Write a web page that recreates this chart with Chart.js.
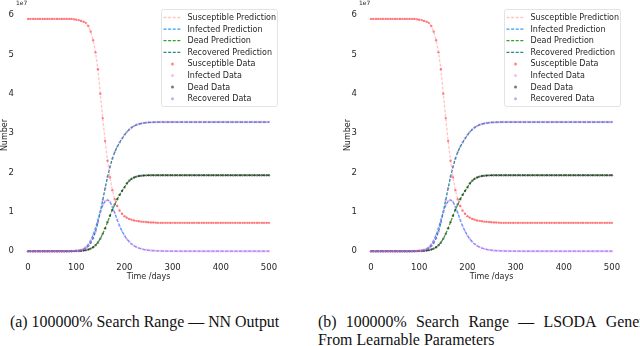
<!DOCTYPE html>
<html>
<head>
<meta charset="utf-8">
<script src="https://cdn.jsdelivr.net/npm/chart.js@4.4.1/dist/chart.umd.min.js"></script>
<style>
  html, body { margin: 0; padding: 0; background: #fff; }
  body { width: 640px; height: 346px; overflow: hidden; position: relative; }
  canvas { position: absolute; top: 0; }
  #chartA { left: 0; }
  #chartB { left: 343px; }
  .cap { position: absolute; font-family: "Liberation Serif", serif; font-size: 15.9px; line-height: 17px; color: #111; white-space: nowrap; }
  #capA { left: 10px; top: 313px; }
  #capB1 { left: 318px; top: 313px; width: 353px; display: flex; justify-content: space-between; }
  #capB2 { left: 318px; top: 331px; }
</style>
</head>
<body>
<canvas id="chartA" width="297" height="282"></canvas>
<canvas id="chartB" width="297" height="282"></canvas>
<div class="cap" id="capA">(a) 100000% Search Range — NN Output</div>
<div class="cap" id="capB1"><span>(b)</span><span>100000%</span><span>Search</span><span>Range</span><span>—</span><span>LSODA</span><span>Generated</span></div>
<div class="cap" id="capB2">From Learnable Parameters</div>
<script>
// DATI (unità di 1e7 persone)
const days = [
  0, 5, 10, 15, 20, 25, 30, 35, 40, 45,
  50, 55, 60, 65, 70, 75, 80, 85, 90, 95,
  100, 105, 110, 115, 120, 125, 130, 135, 140, 145,
  150, 155, 160, 165, 170, 175, 180, 185, 190, 195,
  200, 205, 210, 215, 220, 225, 230, 235, 240, 245,
  250, 255, 260, 265, 270, 275, 280, 285, 290, 295,
  300, 305, 310, 315, 320, 325, 330, 335, 340, 345,
  350, 355, 360, 365, 370, 375, 380, 385, 390, 395,
  400, 405, 410, 415, 420, 425, 430, 435, 440, 445,
  450, 455, 460, 465, 470, 475, 480, 485, 490, 495,
  500
];

const susceptible = [
  5.90, 5.90, 5.90, 5.90, 5.90, 5.90, 5.90, 5.90, 5.90, 5.90,
  5.90, 5.90, 5.90, 5.90, 5.90, 5.90, 5.90, 5.90, 5.90, 5.89,
  5.88, 5.87, 5.85, 5.83, 5.80, 5.72, 5.58, 5.36, 5.05, 4.62,
  4.00, 3.38, 2.80, 2.30, 1.88, 1.55, 1.32, 1.15, 1.03, 0.95,
  0.89, 0.85, 0.82, 0.80, 0.78, 0.77, 0.76, 0.75, 0.745, 0.74,
  0.735, 0.73, 0.73, 0.725, 0.72, 0.72, 0.72, 0.72, 0.72, 0.72,
  0.72, 0.72, 0.72, 0.72, 0.72, 0.72, 0.72, 0.72, 0.72, 0.72,
  0.72, 0.72, 0.72, 0.72, 0.72, 0.72, 0.72, 0.72, 0.72, 0.72,
  0.72, 0.72, 0.72, 0.72, 0.72, 0.72, 0.72, 0.72, 0.72, 0.72,
  0.72, 0.72, 0.72, 0.72, 0.72, 0.72, 0.72, 0.72, 0.72, 0.72,
  0.72
];

const infected = [
  0, 0, 0, 0, 0, 0, 0, 0, 0, 0,
  0, 0, 0, 0.001, 0.001, 0.001, 0.002, 0.003, 0.005, 0.008,
  0.012, 0.02, 0.035, 0.06, 0.10, 0.17, 0.27, 0.41, 0.59, 0.80,
  1.00, 1.17, 1.27, 1.30, 1.26, 1.13, 0.97, 0.80, 0.64, 0.51,
  0.40, 0.31, 0.24, 0.18, 0.14, 0.105, 0.08, 0.06, 0.045, 0.034,
  0.025, 0.019, 0.014, 0.01, 0.008, 0.006, 0.004, 0.003, 0.002, 0.002,
  0.002, 0.001, 0.001, 0.001, 0, 0, 0, 0, 0, 0,
  0, 0, 0, 0, 0, 0, 0, 0, 0, 0,
  0, 0, 0, 0, 0, 0, 0, 0, 0, 0,
  0, 0, 0, 0, 0, 0, 0, 0, 0, 0,
  0
];

const dead = [
  0, 0, 0, 0, 0, 0, 0, 0, 0, 0,
  0, 0, 0, 0, 0, 0, 0, 0, 0, 0.002,
  0.004, 0.006, 0.01, 0.016, 0.026, 0.042, 0.066, 0.10, 0.15, 0.22,
  0.32, 0.44, 0.58, 0.74, 0.90, 1.05, 1.19, 1.32, 1.43, 1.53,
  1.62, 1.72, 1.79, 1.84, 1.87, 1.895, 1.91, 1.918, 1.923, 1.926,
  1.928, 1.93, 1.93, 1.93, 1.93, 1.93, 1.93, 1.93, 1.93, 1.93,
  1.93, 1.93, 1.93, 1.93, 1.93, 1.93, 1.93, 1.93, 1.93, 1.93,
  1.93, 1.93, 1.93, 1.93, 1.93, 1.93, 1.93, 1.93, 1.93, 1.93,
  1.93, 1.93, 1.93, 1.93, 1.93, 1.93, 1.93, 1.93, 1.93, 1.93,
  1.93, 1.93, 1.93, 1.93, 1.93, 1.93, 1.93, 1.93, 1.93, 1.93,
  1.93
];

const recovered = [
  0, 0, 0, 0, 0, 0, 0, 0, 0, 0,
  0, 0, 0, 0, 0, 0, 0, 0.002, 0.004, 0.006,
  0.01, 0.015, 0.025, 0.045, 0.08, 0.13, 0.21, 0.33, 0.50, 0.73,
  1.00, 1.30, 1.60, 1.89, 2.14, 2.35, 2.52, 2.65, 2.76, 2.86,
  2.95, 3.03, 3.09, 3.14, 3.18, 3.21, 3.23, 3.245, 3.255, 3.265,
  3.27, 3.273, 3.276, 3.278, 3.28, 3.28, 3.28, 3.28, 3.28, 3.28,
  3.28, 3.28, 3.28, 3.28, 3.28, 3.28, 3.28, 3.28, 3.28, 3.28,
  3.28, 3.28, 3.28, 3.28, 3.28, 3.28, 3.28, 3.28, 3.28, 3.28,
  3.28, 3.28, 3.28, 3.28, 3.28, 3.28, 3.28, 3.28, 3.28, 3.28,
  3.28, 3.28, 3.28, 3.28, 3.28, 3.28, 3.28, 3.28, 3.28, 3.28,
  3.28
];

const xTicks = [0, 100, 200, 300, 400, 500];
const yTicks = [0, 1, 2, 3, 4, 5, 6];

const etichettePred = ['Susceptible Prediction', 'Infected Prediction', 'Dead Prediction', 'Recovered Prediction'];
const etichetteDati = ['Susceptible Data', 'Infected Data', 'Dead Data', 'Recovered Data'];
const serie = [susceptible, infected, dead, recovered];
const coloriLinee = ['rgba(255,140,150,0.5)', 'rgba(30,144,255,0.9)', 'rgba(30,150,30,0.9)', 'rgba(30,130,135,0.95)'];
const coloriPunti = ['rgba(255,40,40,0.55)', 'rgba(238,130,238,0.55)', 'rgba(10,10,10,0.55)', 'rgba(150,100,235,0.55)'];

const FONT = { family: 'DejaVu Sans', size: 8.5 };
const TESTO = '#262626';

function punti(valori) {
  return days.map((d, i) => ({ x: d, y: valori[i] }));
}

// LEGENDA DENTRO IL GRAFICO (come matplotlib)
const legendaInterna = {
  id: 'legendaInterna',
  afterDraw(chart) {
    const ctx = chart.ctx, area = chart.chartArea;
    const w = 116, h = 97, rowH = 11.6;
    const x0 = Math.round(area.right - 4 - w) + 0.5, y0 = Math.round(area.top + 2) + 0.5;
    ctx.save();
    ctx.fillStyle = 'rgba(255,255,255,0.85)';
    ctx.strokeStyle = '#dcdcdc';
    ctx.lineWidth = 0.8;
    ctx.beginPath();
    ctx.roundRect(x0, y0, w, h, 2);
    ctx.fill();
    ctx.stroke();
    ctx.font = '8px "DejaVu Sans"';
    ctx.textBaseline = 'middle';
    ctx.textAlign = 'left';
    chart.data.datasets.forEach((ds, i) => {
      const cy = y0 + 8 + i * rowH;
      const hx = x0 + 2;
      if (ds.showLine) {
        ctx.strokeStyle = ds.borderColor;
        ctx.lineWidth = 1.3;
        ctx.setLineDash([3, 1.6]);
        ctx.beginPath();
        ctx.moveTo(hx, cy);
        ctx.lineTo(hx + 17, cy);
        ctx.stroke();
        ctx.setLineDash([]);
      } else {
        ctx.fillStyle = ds.pointBackgroundColor;
        ctx.beginPath();
        ctx.arc(hx + 9, cy, 1.5, 0, Math.PI * 2);
        ctx.fill();
      }
      ctx.fillStyle = TESTO;
      ctx.fillText(ds.label, hx + 24, cy + 0.5);
    });
    // fattore di scala dell'asse y
    ctx.font = '6px "DejaVu Sans"';
    ctx.textBaseline = 'top';
    ctx.fillStyle = TESTO;
    ctx.fillText('1e7', 16, 0);
    ctx.restore();
  }
};

function creaGrafico(idCanvas) {
  const datasets = [];
  serie.forEach((s, i) => {
    datasets.push({
      label: etichettePred[i], data: punti(s), showLine: true,
      borderColor: coloriLinee[i], borderWidth: 1.3, borderDash: [3, 1.6],
      pointRadius: 0, tension: 0, order: 2
    });
  });
  serie.forEach((s, i) => {
    datasets.push({
      label: etichetteDati[i], data: punti(s), showLine: false,
      pointBackgroundColor: coloriPunti[i], pointBorderWidth: 0,
      pointRadius: 1.2, order: 1
    });
  });

  return new Chart(document.getElementById(idCanvas), {
    type: 'scatter',
    data: { datasets },
    options: {
      responsive: false,
      animation: false,
      devicePixelRatio: 1,
      layout: { padding: { top: 5.5, right: 16, left: 0, bottom: 0 } },
      plugins: { legend: { display: false }, tooltip: { enabled: false } },
      scales: {
        x: {
          type: 'linear', min: -25, max: 525,
          afterBuildTicks: s => { s.ticks = xTicks.map(v => ({ value: v })); },
          afterFit: s => { s.height = 19; },
          ticks: { font: FONT, color: TESTO, padding: 0, maxRotation: 0, autoSkip: false },
          grid: { display: false, drawTicks: false },
          border: { display: false },
          title: { display: true, text: 'Time /days', font: { family: 'DejaVu Sans', size: 8 }, color: TESTO, padding: 0 }
        },
        y: {
          type: 'linear', min: -0.3, max: 6.2,
          afterBuildTicks: s => { s.ticks = yTicks.map(v => ({ value: v })); },
          afterFit: s => { s.width = 16; },
          ticks: { font: FONT, color: TESTO, padding: 2, autoSkip: false },
          grid: { display: false, drawTicks: false },
          border: { display: false },
          title: { display: true, text: 'Number', font: { family: 'DejaVu Sans', size: 8 }, color: TESTO, padding: 0 }
        }
      }
    },
    plugins: [legendaInterna]
  });
}

creaGrafico('chartA');
creaGrafico('chartB');
</script>
</body>
</html>
